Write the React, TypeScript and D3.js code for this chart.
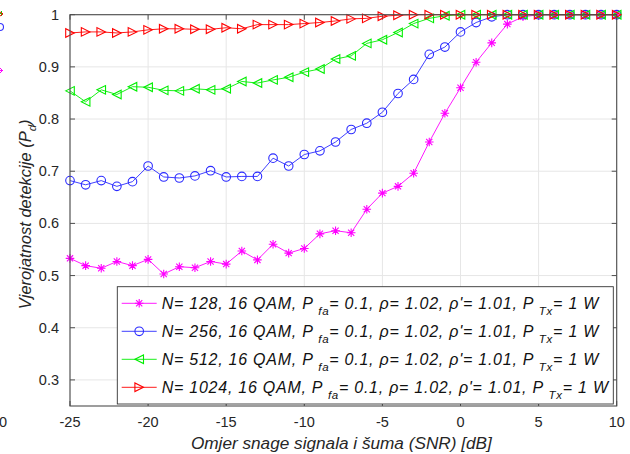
import React from "react";
import * as d3 from "d3";

const snr: number[] = d3.range(-25, 11, 1);

const pd128: number[] = [
  0.533, 0.519, 0.514, 0.527, 0.519, 0.531, 0.503, 0.517, 0.515, 0.527, 0.522, 0.547,
  0.530, 0.560, 0.543, 0.552, 0.580, 0.586, 0.582, 0.627, 0.658, 0.671, 0.696, 0.756,
  0.811, 0.860, 0.909, 0.946, 0.982, 0.996, 1, 1, 1, 1, 1, 1,
];
const pd256: number[] = [
  0.682, 0.674, 0.682, 0.671, 0.680, 0.710, 0.689, 0.687, 0.691, 0.701, 0.689, 0.690,
  0.690, 0.725, 0.710, 0.732, 0.739, 0.756, 0.780, 0.792, 0.813, 0.849, 0.876, 0.924,
  0.938, 0.967, 0.985, 0.996, 1, 1, 1, 1, 1, 1, 1, 1,
];
const pd512: number[] = [
  0.854, 0.833, 0.856, 0.847, 0.862, 0.861, 0.855, 0.854, 0.858, 0.856, 0.858, 0.872,
  0.869, 0.875, 0.880, 0.890, 0.896, 0.915, 0.921, 0.945, 0.952, 0.966, 0.983, 0.993,
  0.998, 1, 1, 1, 1, 1, 1, 1, 1, 1, 1, 1,
];
const pd1024: number[] = [
  0.965, 0.967, 0.967, 0.965, 0.967, 0.971, 0.973, 0.973, 0.972, 0.972, 0.975, 0.973,
  0.981, 0.981, 0.981, 0.983, 0.985, 0.988, 0.992, 0.993, 0.997, 0.999, 1, 1,
  1, 1, 1, 1, 1, 1, 1, 1, 1, 1, 1, 1,
];

const seriesN: string[] = ["128", "256", "512", "1024"];
const seriesColors: string[] = ["#ff00ff", "#2a2aff", "#00ee00", "#ff0000"];
const seriesMarkers: string[] = ["star", "circle", "triLeft", "triRight"];
const seriesValues: number[][] = [pd128, pd256, pd512, pd1024];

const xTicks: number[] = [-25, -20, -15, -10, -5, 0, 5, 10];
const yTicks: number[] = [0.3, 0.4, 0.5, 0.6, 0.7, 0.8, 0.9, 1];

const xLabel = "Omjer snage signala i šuma (SNR) [dB]";
const yLabelMain = "Vjerojatnost detekcije (P";
const yLabelSub = "d";

const W = 630;
const H = 454;
const left = 70;
const right = 616.7;
const top = 14.7;
const bottom = 406;

const font = "'Liberation Sans', Arial, Helvetica, sans-serif";
const textColor = "#262626";

function Marker({ type, x, y, color }: { type: string; x: number; y: number; color: string }) {
  const s = 4.3;
  if (type === "circle") {
    return <circle cx={x} cy={y} r={s} fill="none" stroke={color} strokeWidth={1.1} />;
  }
  if (type === "star") {
    const d = s * 0.72;
    return (
      <path
        d={`M${x - s},${y}H${x + s}M${x},${y - s}V${y + s}M${x - d},${y - d}L${x + d},${y + d}M${x - d},${y + d}L${x + d},${y - d}`}
        stroke={color}
        strokeWidth={1.1}
        fill="none"
      />
    );
  }
  if (type === "triLeft") {
    return (
      <path d={`M${x - s},${y}L${x + s},${y - s}L${x + s},${y + s}Z`} fill="none" stroke={color} strokeWidth={1.1} />
    );
  }
  return <path d={`M${x + s},${y}L${x - s},${y - s}L${x - s},${y + s}Z`} fill="none" stroke={color} strokeWidth={1.1} />;
}

export default function App() {
  const x = d3.scaleLinear().domain([-25, 10]).range([left, right]);
  const y = d3.scaleLinear().domain([0.25, 1]).range([bottom, top]);
  const line = d3
    .line<[number, number]>()
    .x((d) => x(d[0]))
    .y((d) => y(d[1]));

  const legX = 117.3;
  const legY = 286.7;
  const legW = 613.3 - 117.3;
  const legH = 404 - 286.7;
  const rowY = (i: number) => 303.3 + i * 28;
  const legFs = 16;

  return (
    <svg
      width={W}
      height={H}
      viewBox={`0 0 ${W} ${H}`}
      style={{ position: "absolute", left: 0, top: 0, background: "#fff", fontFamily: font }}
    >
      <rect x={0} y={0} width={W} height={H} fill="#fff" />
      {/* fragments of neighboring figure at the left edge */}
      <g>
        <path d="M0,13.5H3M1.5,11V16" stroke="#00dd00" strokeWidth={1} />
        <path d="M0,12L3,14L0,16" stroke="#ff0000" strokeWidth={1} fill="none" />
        <path d="M0,23.5A3.5,3.5 0 0 1 0,30.5" stroke="#3333ff" strokeWidth={1.1} fill="none" />
        <path d="M0,68L2.5,70.5M0,73L2.5,70.5M0,70.5H3" stroke="#ff00ff" strokeWidth={1} />
        <text x={-1} y={427} fontSize={14.5} fill={textColor}>0</text>
      </g>
      {/* grid */}
      <g stroke="#e6e6e6" strokeWidth={1}>
        {xTicks.map((t) => (
          <line key={`gx${t}`} x1={x(t)} x2={x(t)} y1={top} y2={bottom} />
        ))}
        {yTicks.map((t) => (
          <line key={`gy${t}`} x1={left} x2={right} y1={y(t)} y2={y(t)} />
        ))}
      </g>
      {/* ticks inward */}
      <g stroke={textColor} strokeWidth={0.8}>
        {xTicks.map((t) => (
          <g key={`tx${t}`}>
            <line x1={x(t)} x2={x(t)} y1={bottom} y2={bottom - 5} />
            <line x1={x(t)} x2={x(t)} y1={top} y2={top + 5} />
          </g>
        ))}
        {yTicks.map((t) => (
          <g key={`ty${t}`}>
            <line x1={left} x2={left + 5} y1={y(t)} y2={y(t)} />
            <line x1={right} x2={right - 5} y1={y(t)} y2={y(t)} />
          </g>
        ))}
      </g>
      {/* series */}
      {seriesValues.map((vals, si) => {
        const pts: [number, number][] = snr.map((s, i) => [s, vals[i]]);
        return (
          <g key={`s${si}`}>
            <path d={line(pts) || ""} fill="none" stroke={seriesColors[si]} strokeWidth={0.9} />
            {pts.map((p, i) => (
              <Marker key={i} type={seriesMarkers[si]} x={x(p[0])} y={y(p[1])} color={seriesColors[si]} />
            ))}
          </g>
        );
      })}
      {/* axes box */}
      <rect x={left} y={top} width={right - left} height={bottom - top} fill="none" stroke="#4d4d4d" strokeWidth={1.1} />
      {/* tick labels */}
      <g fontSize={14.5} fill={textColor}>
        {xTicks.map((t) => (
          <text key={`lx${t}`} x={x(t)} y={427} textAnchor="middle">
            {t}
          </text>
        ))}
        {yTicks.map((t) => (
          <text key={`ly${t}`} x={59} y={y(t) + 5} textAnchor="end">
            {t}
          </text>
        ))}
      </g>
      {/* axis labels */}
      <text x={(left + right) / 2 - 2} y={449} textAnchor="middle" fontSize={17.2} fontStyle="italic" fill={textColor}>
        {xLabel}
      </text>
      <text
        transform={`translate(31,${(top + bottom) / 2 + 4}) rotate(-90)`}
        textAnchor="middle"
        fontSize={16.5}
        fontStyle="italic"
        fill={textColor}
      >
        {yLabelMain}
        <tspan fontSize={11.5} dy={5}>{yLabelSub}</tspan>
        <tspan dy={-5}>)</tspan>
      </text>
      {/* legend */}
      <rect x={legX} y={legY} width={legW} height={legH} fill="#fff" stroke="#333" strokeWidth={0.9} />
      {seriesN.map((n, i) => (
        <g key={`leg${i}`}>
          <line x1={121.7} x2={156.7} y1={rowY(i)} y2={rowY(i)} stroke={seriesColors[i]} strokeWidth={0.9} />
          <Marker type={seriesMarkers[i]} x={139.2} y={rowY(i)} color={seriesColors[i]} />
          <text x={161.7} y={rowY(i) + 5.5} fontSize={legFs} fontStyle="italic" fill="#111" letterSpacing={0.75}>
            {`N= ${n}, 16 QAM, P `}
            <tspan fontSize={legFs * 0.72} dy={6}>fa</tspan>
            <tspan dy={-6}>{"= 0.1, ρ= 1.02, ρ'= 1.01, P "}</tspan>
            <tspan fontSize={legFs * 0.72} dy={6}>Tx</tspan>
            <tspan dy={-6}>= 1 W</tspan>
          </text>
        </g>
      ))}
    </svg>
  );
}
